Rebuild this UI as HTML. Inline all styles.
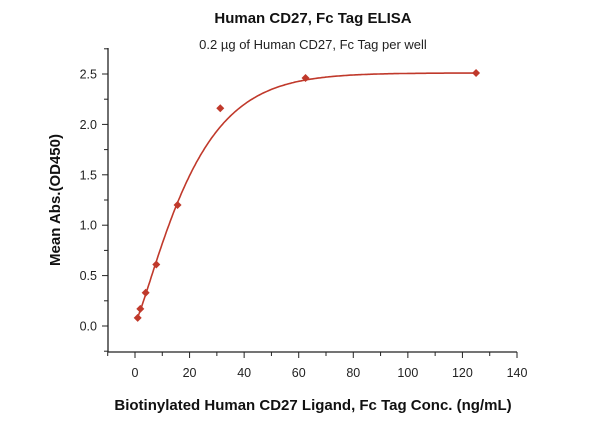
<!DOCTYPE html>
<html><head><meta charset="utf-8"><style>
body{margin:0;background:#fff;}
svg{display:block;font-family:"Liberation Sans",sans-serif;}
</style></head><body>
<svg id="c" width="600" height="421" viewBox="0 0 600 421">
<text x="313" y="23" text-anchor="middle" font-size="15" font-weight="bold" fill="#111">Human CD27, Fc Tag ELISA</text>
<text x="313" y="49" text-anchor="middle" font-size="13" fill="#222">0.2 µg of Human CD27, Fc Tag per well</text>
<text x="313" y="410" text-anchor="middle" font-size="15" font-weight="bold" fill="#111">Biotinylated Human CD27 Ligand, Fc Tag Conc. (ng/mL)</text>
<text transform="translate(60,200) rotate(-90)" text-anchor="middle" font-size="15" font-weight="bold" fill="#111">Mean Abs.(OD450)</text>
<g id="axes"></g><g id="marks"></g>
</svg>
<script>
const xTicks=[0,20,40,60,80,100,120,140];
const yTicks=[0.0,0.5,1.0,1.5,2.0,2.5];
const concentrations=[0.98,1.95,3.9,7.8,15.6,31.25,62.5,125];
const absorbance=[0.08,0.17,0.33,0.61,1.2,2.16,2.46,2.51];
const fitBottom=0.03, fitTop=2.51, fitScale=22, fitShape=1.22;
const NS="http://www.w3.org/2000/svg";
const X=v=>135+v*(517-135)/140;
const Y=v=>326-v*(326-74)/2.5;
function mk(t,a,p){const e=document.createElementNS(NS,t);for(const k in a)e.setAttribute(k,a[k]);p.appendChild(e);return e;}
const ax=document.getElementById('axes'),mg=document.getElementById('marks');
const axisColor="#222";
let yl=mk('line',{x1:108,y1:48,x2:108,y2:352,stroke:axisColor,'stroke-width':1.3},ax);


let xl=mk('line',{x1:108,y1:352,x2:517,y2:352,stroke:axisColor,'stroke-width':1.3},ax);


xTicks.forEach((v,i)=>{
  mk('line',{x1:X(v),y1:352,x2:X(v),y2:358,stroke:axisColor},ax);
  if(i<xTicks.length-1){const m=(v+xTicks[i+1])/2;mk('line',{x1:X(m),y1:352,x2:X(m),y2:356,stroke:axisColor},ax);}
  const t=mk('text',{x:X(v),y:377,'text-anchor':'middle','font-size':12.5,fill:'#222'},ax);t.textContent=v;
  
  
});
mk('line',{x1:X(-10),y1:352,x2:X(-10),y2:356,stroke:axisColor},ax);
yTicks.forEach(v=>{
  mk('line',{x1:102,y1:Y(v),x2:108,y2:Y(v),stroke:axisColor},ax);
  mk('line',{x1:104,y1:Y(v+0.25),x2:108,y2:Y(v+0.25),stroke:axisColor},ax);
  const t=mk('text',{x:97,y:Y(v)+4.5,'text-anchor':'end','font-size':12.5,fill:'#222'},ax);t.textContent=v.toFixed(1);
  
  
});
mk('line',{x1:104,y1:Y(-0.25),x2:108,y2:Y(-0.25),stroke:axisColor},ax);
const f=x=>fitBottom+(fitTop-fitBottom)*(1-Math.exp(-Math.pow(x/fitScale,fitShape)));
let d='';
const x0=concentrations[0],x1=concentrations[concentrations.length-1];
for(let x=x0;x<=x1+0.01;x+=0.5){d+=(d?'L':'M')+X(x).toFixed(1)+','+Y(f(x)).toFixed(1);}
const cv=mk('path',{d:d,fill:'none',stroke:'#c0392b','stroke-width':1.6},mg);


concentrations.forEach((c,i)=>{
  const cx=X(c),cy=Y(absorbance[i]),s=4;
  const p=mk('polygon',{points:`${cx},${cy-s} ${cx+s},${cy} ${cx},${cy+s} ${cx-s},${cy}`,fill:'#c0392b'},mg);
  
  
});
</script>
</body></html>
